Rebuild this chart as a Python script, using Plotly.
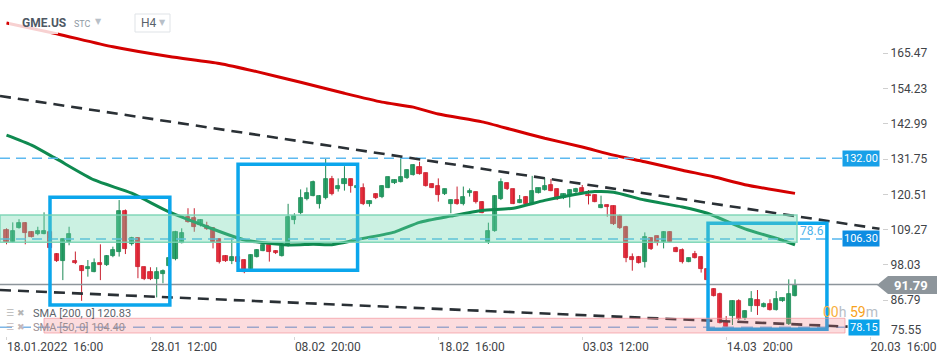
import plotly.graph_objects as go

# ---------------- data ----------------
opens = [109.2, 105.4, 109.9, 111.5, 108.6, 107.8, 108.0, 108.6, 101.5, 99.4,
         105.4, 99.3, 97.7, 96.6, 95.9, 98.5, 97.9, 101.0, 102.3, 115.2,
         104.6, 106.5, 97.3, 95.7, 93.4, 95.0, 97.7, 99.8, 105.1, 113.2,
         112.9, 110.6, 110.5, 109.7, 106.2, 100.9, 99.4, 100.5, 99.6, 96.6,
         100.7, 102.6, 104.4, 102.5, 100.9, 104.1, 112.5, 114.5, 118.9, 120.1,
         117.6, 119.45, 125.3, 122.3, 123.7, 125.3, 122.4, 122.4, 117.6, 120.6,
         119.6, 122.7, 124.0, 124.5, 125.6, 126.7, 129.1, 127.2, 123.8, 123.2,
         120.5, 117.6, 118.7, 117.3, 120.8, 121.2, 118.2, 105.4, 108.8, 118.9,
         124.0, 122.1, 117.9, 119.8, 117.6, 121.05, 121.9, 123.5, 122.2, 119.25,
         120.1, 121.4, 122.4, 120.3, 120.3, 116.3, 117.1, 116.8, 113.6, 110.2,
         100.7, 100.7, 99.07, 106.5, 107.25, 105.4, 108.4, 103.3, 102.8, 99.07,
         101.5, 100.7, 96.6, 90.4, 88.8, 79.9, 81.9, 86.55, 81.0, 84.95,
         86.9, 84.7, 85.6, 83.7, 86.65, 79.2, 88.25]
highs = [109.7, 111.6, 112.6, 111.7, 108.8, 110.2, 114.8, 109.0, 101.8, 106.4,
         110.2, 102.3, 98.0, 99.6, 100.1, 104.6, 101.2, 103.85, 118.7, 115.7,
         107.0, 106.8, 97.5, 97.3, 97.3, 96.6, 100.3, 108.9, 109.7, 116.1,
         116.1, 112.6, 111.8, 110.0, 106.4, 101.2, 106.5, 100.7, 99.8, 101.4,
         103.1, 104.7, 105.0, 102.7, 105.1, 117.5, 114.5, 122.1, 122.7, 124.9,
         120.3, 132.0, 126.4, 125.6, 129.5, 125.5, 123.5, 124.0, 118.6, 120.8,
         123.4, 126.2, 125.3, 132.7, 128.5, 130.1, 130.9, 127.4, 124.0, 125.6,
         122.3, 118.9, 123.0, 123.0, 122.4, 121.4, 118.4, 111.5, 120.3, 125.6,
         124.2, 122.3, 120.3, 120.0, 126.4, 122.6, 125.8, 125.4, 122.4, 120.8,
         122.1, 122.6, 123.5, 121.9, 120.5, 120.1, 117.3, 117.0, 114.1, 110.5,
         101.7, 100.9, 108.4, 106.7, 107.35, 108.8, 108.8, 103.85, 103.3, 100.4,
         102.5, 100.9, 97.0, 90.6, 89.2, 81.75, 86.8, 87.1, 83.6, 89.7,
         90.05, 86.1, 87.1, 89.7, 87.6, 93.45, 93.45]
lows = [104.6, 105.2, 109.6, 104.6, 106.8, 107.5, 107.8, 102.8, 99.0, 93.2,
        104.3, 98.3, 86.6, 94.3, 95.7, 93.2, 97.7, 100.5, 100.7, 101.5,
        104.2, 93.8, 93.2, 93.2, 87.7, 92.2, 97.5, 99.5, 104.9, 111.5,
        108.6, 110.3, 109.2, 103.3, 98.5, 99.0, 98.3, 98.7, 95.4, 96.3,
        100.4, 102.4, 99.1, 101.5, 100.7, 103.9, 111.0, 114.2, 118.6, 119.9,
        116.0, 118.9, 120.2, 121.4, 121.7, 121.05, 122.1, 117.1, 116.6, 119.0,
        119.3, 122.5, 123.8, 124.3, 125.4, 126.5, 126.8, 123.0, 122.5, 118.2,
        120.3, 114.5, 117.2, 117.0, 119.8, 117.6, 114.5, 104.7, 108.6, 118.7,
        121.9, 117.4, 117.7, 117.4, 117.4, 120.8, 121.7, 121.5, 118.7, 119.0,
        116.3, 120.6, 120.6, 117.3, 118.0, 116.1, 113.4, 110.75, 109.5, 98.9,
        96.2, 98.5, 97.2, 102.8, 104.2, 103.3, 105.2, 102.1, 98.5, 98.9,
        100.1, 95.6, 93.0, 88.0, 79.4, 78.2, 78.9, 80.5, 80.5, 83.1,
        82.1, 84.5, 83.5, 83.5, 86.3, 78.9, 88.0]
closes = [105.4, 108.8, 111.5, 108.1, 107.0, 108.8, 108.8, 103.3, 99.4, 106.2,
          107.9, 98.5, 96.2, 97.3, 98.5, 97.9, 100.9, 102.8, 115.2, 103.0,
          106.5, 97.3, 93.4, 93.4, 95.7, 96.1, 100.1, 108.6, 108.1, 111.8,
          110.2, 112.3, 109.4, 105.4, 98.9, 99.3, 100.5, 98.9, 95.8, 101.2,
          102.8, 104.4, 102.3, 101.7, 104.0, 113.4, 113.6, 119.2, 121.0, 124.3,
          120.0, 125.3, 120.5, 123.2, 125.3, 123.2, 123.2, 117.6, 118.4, 119.2,
          123.2, 125.9, 125.1, 125.9, 128.3, 129.9, 127.0, 123.2, 122.7, 120.3,
          122.1, 118.7, 117.4, 119.6, 121.6, 118.2, 114.7, 108.8, 120.0, 124.5,
          122.1, 117.6, 118.7, 117.6, 121.6, 122.4, 123.2, 121.7, 119.0, 120.5,
          121.9, 122.2, 120.8, 120.0, 118.2, 117.1, 116.4, 111.1, 109.7, 100.1,
          99.6, 98.75, 107.0, 103.0, 104.9, 108.4, 105.4, 102.3, 99.07, 100.1,
          100.35, 96.6, 93.2, 88.25, 79.6, 78.4, 86.55, 80.7, 83.4, 87.1,
          85.06, 85.6, 83.7, 87.1, 87.4, 88.8, 91.79]
candle_idx = list(range(len(closes)))

sma200_idx = [0, 8, 17, 26, 34, 40, 47, 54, 60, 65, 69, 76, 81, 86, 92, 97, 102, 108, 113, 118, 126]
sma200_val = [175.1, 171.7, 167.5, 164.4, 162.2, 159.6, 156.2, 152.7, 149.9, 148.3, 146.1,
              143.6, 141.0, 138.4, 135.6, 133.0, 130.9, 128.2, 126.1, 123.6, 120.83]
sma50_idx = [0, 4, 8, 14, 20, 26, 32, 38, 45, 49, 52, 57, 62, 66, 71, 76, 81, 86, 92, 94,
             97, 102, 108, 112, 118, 124, 126]
sma50_val = [139.4, 136.2, 131.8, 125.1, 120.9, 114.9, 110.2, 106.0, 104.4, 104.6, 104.5,
             106.5, 108.5, 111.6, 113.6, 115.4, 116.1, 118.6, 120.9, 121.4, 121.2, 118.7,
             116.5, 114.5, 109.5, 105.9, 104.4]

x_tick_idx = [0, 23, 46, 69, 92, 115, 138]
x_tick_text = ["18.01.2022\u00a0\u00a016:00", "28.01\u00a0\u00a012:00", "08.02\u00a0\u00a020:00",
               "18.02\u00a0\u00a016:00", "03.03\u00a0\u00a012:00", "14.03\u00a0\u00a020:00",
               "20.03\u00a0\u00a016:00"]
y_ticks = [75.55, 86.79, 98.03, 109.27, 120.51, 131.75, 142.99, 154.23, 165.47]

level_resist = 132.00
level_mid = 106.30
level_support = 78.15
last_price = 91.79
green_zone = [105.25, 113.94]
red_zone = [76.36, 81.04]
upper_trend = [(-1.04, 151.84), (139.5, 109.55)]
lower_trend = [(-1.04, 90.05), (134.4, 78.4)]
boxes = [(6.95, 85.28, 26.1, 119.58), (37.0, 96.38, 56.1, 130.09), (112.1, 77.54, 131.1, 111.3)]

# ---------------- figure ----------------
W, H = 950, 360
ML, MR, MT, MB = 0, 68, 0, 24
PW, PH = W - ML - MR, H - MT - MB


def px(x):
    return x / PW


def py(y):
    return 1 - y / PH


BULL, BULL_LINE = "#2aa56c", "#1d8a56"
BEAR, BEAR_LINE = "#ec2f3e", "#c8202f"

fig = go.Figure()

# wicks
for bull in (True, False):
    xs, ys = [], []
    for i in candle_idx:
        if (closes[i] >= opens[i]) == bull:
            xs += [i, i, None]
            ys += [lows[i], highs[i], None]
    fig.add_trace(go.Scatter(x=xs, y=ys, mode="lines",
                             line=dict(color=BULL_LINE if bull else BEAR_LINE, width=1),
                             hoverinfo="skip", showlegend=False))

# bodies
base = [min(o, c) for o, c in zip(opens, closes)]
hgt = [max(abs(c - o), 0.25) for o, c in zip(opens, closes)]
fill = [BULL if c >= o else BEAR for o, c in zip(opens, closes)]
edge = [BULL_LINE if c >= o else BEAR_LINE for o, c in zip(opens, closes)]
fig.add_trace(go.Bar(x=candle_idx, y=hgt, base=base, width=0.66,
                     marker=dict(color=fill, line=dict(color=edge, width=0.8)),
                     showlegend=False, hoverinfo="skip"))

# moving averages
fig.add_trace(go.Scatter(x=sma200_idx, y=sma200_val, mode="lines",
                         line=dict(color="#d40000", width=3, shape="spline", smoothing=0.6),
                         showlegend=False, hoverinfo="skip"))
fig.add_trace(go.Scatter(x=sma50_idx, y=sma50_val, mode="lines",
                         line=dict(color="#0f8a50", width=3, shape="spline", smoothing=0.6),
                         showlegend=False, hoverinfo="skip"))

shapes = []
# horizontal price lines
shapes.append(dict(type="line", xref="paper", yref="y", x0=0, x1=px(878), y0=last_price, y1=last_price,
                   line=dict(color="#8d959b", width=1.5), layer="above"))
shapes.append(dict(type="line", xref="paper", yref="y", x0=0, x1=px(843), y0=level_resist, y1=level_resist,
                   line=dict(color="#5db9f0", width=1.5, dash="10px,6px"), layer="above"))
shapes.append(dict(type="line", xref="paper", yref="y", x0=0, x1=px(842), y0=level_mid, y1=level_mid,
                   line=dict(color="#55b6ee", width=1.3, dash="10px,6px"), layer="above"))
shapes.append(dict(type="line", xref="paper", yref="y", x0=0, x1=px(846), y0=level_support, y1=level_support,
                   line=dict(color="#7fb6e6", width=1.5, dash="12px,7px"), layer="above"))
# trend lines
for (xa, ya), (xb, yb) in (upper_trend, lower_trend):
    shapes.append(dict(type="line", xref="x", yref="y", x0=xa, y0=ya, x1=xb, y1=yb,
                       line=dict(color="#2a3035", width=2.6, dash="11px,7px"), layer="above"))
# blue boxes
for (xa, ya, xb, yb) in boxes:
    shapes.append(dict(type="rect", xref="x", yref="y", x0=xa, y0=ya, x1=xb, y1=yb,
                       line=dict(color="#0ba6ec", width=3.5), fillcolor="rgba(0,0,0,0)", layer="above"))
# zones
shapes.append(dict(type="rect", xref="paper", yref="y", x0=0, x1=px(797), y0=green_zone[0], y1=green_zone[1],
                   fillcolor="rgba(110,215,175,0.36)", line=dict(color="rgba(120,212,178,0.9)", width=1.5),
                   layer="above"))
shapes.append(dict(type="rect", xref="paper", yref="y", x0=px(44), x1=px(845), y0=red_zone[0], y1=red_zone[1],
                   fillcolor="rgba(244,120,126,0.26)", line=dict(color="rgba(244,150,156,0.7)", width=1),
                   layer="above"))
# faded header panel over the start of SMA 200
shapes.append(dict(type="rect", xref="paper", yref="paper", x0=px(9), x1=px(58), y0=py(34), y1=py(12),
                   fillcolor="rgba(255,255,255,0.82)", line=dict(width=0), layer="above"))
# H4 selector box
shapes.append(dict(type="rect", xref="paper", yref="paper", x0=px(135), x1=px(170), y0=py(32), y1=py(14),
                   fillcolor="white", line=dict(color="#dfe3e7", width=1), layer="above"))
# last price arrow label
arrow = "M {:.5f} {:.5f} L {:.5f} {:.5f} L {:.5f} {:.5f} L {:.5f} {:.5f} L {:.5f} {:.5f} Z".format(
    px(877), py(285), px(888), py(276), px(937), py(276), px(937), py(294), px(888), py(294))
shapes.append(dict(type="path", xref="paper", yref="paper", path=arrow,
                   fillcolor="#8d959b", line=dict(width=0), layer="above"))

ann = []
F = "Roboto"
ann.append(dict(x=px(20), y=py(23), xref="paper", yref="paper", text="<b>GME.US</b>", showarrow=False,
                xanchor="left", yanchor="middle", font=dict(family=F, size=12, color="#4e5864")))
ann.append(dict(x=px(72), y=py(24), xref="paper", yref="paper", text="STC", showarrow=False,
                xanchor="left", yanchor="middle", font=dict(family=F, size=9, color="#909aa4")))
ann.append(dict(x=px(93), y=py(21), xref="paper", yref="paper", text="▼", showarrow=False,
                xanchor="left", yanchor="middle", font=dict(family="DejaVu Sans", size=8, color="#b8c0c8")))
ann.append(dict(x=px(139), y=py(23), xref="paper", yref="paper", text="H4", showarrow=False,
                xanchor="left", yanchor="middle", font=dict(family=F, size=12, color="#59626b")))
ann.append(dict(x=px(157), y=py(23), xref="paper", yref="paper", text="▼", showarrow=False,
                xanchor="left", yanchor="middle", font=dict(family="DejaVu Sans", size=8, color="#b8c0c8")))
# right labels
for yv, txt, col in ((level_resist, "132.00", "#18a0e8"), (level_mid, "106.30", "#0d8de2"),
                     (level_support, "78.15", "#0aa2ea")):
    ann.append(dict(x=px(880), y=yv, xref="paper", yref="y", text=txt, showarrow=False, xanchor="right",
                    yanchor="middle", bgcolor=col, borderpad=1,
                    font=dict(family=F, size=11, color="white")))
ann.append(dict(x=px(911), y=py(285), xref="paper", yref="paper", text="<b>91.79</b>", showarrow=False,
                xanchor="center", yanchor="middle", font=dict(family=F, size=13, color="white")))
ann.append(dict(x=px(798), y=py(231), xref="paper", yref="paper", text="78.6", showarrow=False,
                xanchor="left", yanchor="middle", font=dict(family=F, size=12, color="#4fb3ea")))
ann.append(dict(x=px(821), y=py(311.5), xref="paper", yref="paper",
                text="<span style='color:#f8b040'>00</span><span style='color:#b7bec6'>h</span> "
                     "<span style='color:#f7a21b'>59</span><span style='color:#b7bec6'>m</span>",
                showarrow=False, xanchor="left", yanchor="middle", font=dict(family=F, size=14)))
# lowest y label sits a little higher than its tick, as in the source
ann.append(dict(x=px(889), y=py(330), xref="paper", yref="paper", text="%.2f" % y_ticks[0], showarrow=False,
                xanchor="left", yanchor="middle", font=dict(family=F, size=12, color="#3f4448")))
# indicator legend
ann.append(dict(x=px(4), y=py(313), xref="paper", yref="paper", text="☰ ✖", showarrow=False,
                xanchor="left", yanchor="middle", font=dict(family="DejaVu Sans", size=9, color="#b5b5b5")))
ann.append(dict(x=px(31), y=py(313), xref="paper", yref="paper", text="SMA [200, 0] 120.83", showarrow=False,
                xanchor="left", yanchor="middle", font=dict(family=F, size=11, color="#5d646b")))
ann.append(dict(x=px(4), y=py(327), xref="paper", yref="paper", text="☰ ✖", showarrow=False,
                xanchor="left", yanchor="middle", font=dict(family="DejaVu Sans", size=9, color="#c4b7b9")))
ann.append(dict(x=px(31), y=py(327), xref="paper", yref="paper", text="SMA [50, 0] 104.40", showarrow=False,
                xanchor="left", yanchor="middle", font=dict(family=F, size=11, color="#9c8e92")))

fig.update_layout(
    width=W, height=H, margin=dict(l=ML, r=MR, t=MT, b=MB),
    paper_bgcolor="white", plot_bgcolor="white",
    showlegend=False, bargap=0,
    shapes=shapes, annotations=ann,
    xaxis=dict(range=[-1.04, 139.9], showgrid=False, zeroline=False, showline=False,
               tickmode="array", tickvals=x_tick_idx, ticktext=x_tick_text,
               ticks="outside", ticklen=3, tickcolor="#d5d5d5",
               ticklabelposition="outside right", automargin=False,
               tickfont=dict(family=F, size=12, color="#3f4448")),
    yaxis=dict(range=[75.40, 182.42], side="right", showgrid=False, zeroline=False, showline=False,
               tickmode="array", tickvals=y_ticks[1:], ticktext=["%.2f" % v for v in y_ticks[1:]],
               ticks="outside", ticklen=5, tickcolor="#cfcfcf", automargin=False,
               tickfont=dict(family=F, size=12, color="#3f4448")),
)

fig.write_html("out.html", config={"displayModeBar": False},
               post_script="document.body.style.margin='0px';document.body.style.overflow='hidden';")
